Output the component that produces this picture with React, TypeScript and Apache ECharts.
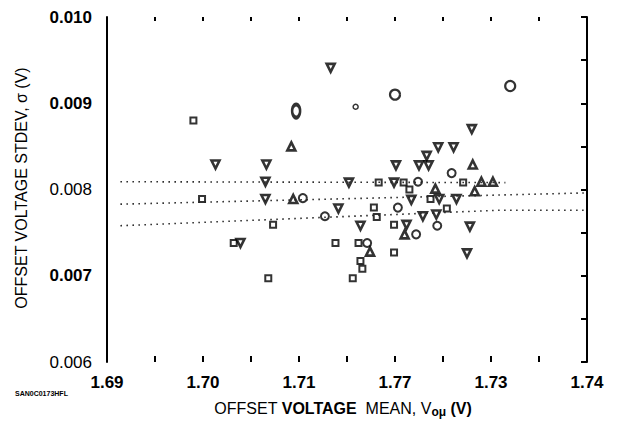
import React, { useEffect, useRef } from "react";
import * as echarts from "echarts";

// ---- data ----
const xTickLabels = ["1.69", "1.70", "1.71", "1.77", "1.73", "1.74"];
const yTickLabels = ["0.006", "0.007", "0.008", "0.009", "0.010"];

const squares: number[][] = [
  [1.699, 0.0088], [1.6999, 0.00789], [1.7073, 0.00759], [1.7032, 0.00738],
  [1.7068, 0.00697], [1.7183, 0.00808], [1.7209, 0.00808], [1.7215, 0.008],
  [1.7178, 0.00779], [1.7254, 0.00778], [1.7181, 0.00768], [1.7199, 0.00759],
  [1.7138, 0.00738], [1.7162, 0.00738], [1.7199, 0.00727], [1.7164, 0.00717],
  [1.7166, 0.00708], [1.7156, 0.00697], [1.7271, 0.00808], [1.7237, 0.00789],
];
const circles: number[][] = [
  [1.7259, 0.00819], [1.7224, 0.00809], [1.7104, 0.0079], [1.7203, 0.00779],
  [1.7127, 0.00769], [1.7244, 0.00758], [1.7222, 0.00748], [1.7171, 0.00738],
];
const circlesLarge: number[][] = [[1.72, 0.0091], [1.732, 0.0092]];
const circleBold: number[][] = [[1.7097, 0.00891]];
const circleSmall: number[][] = [[1.7159, 0.00896]];
const trianglesDown: number[][] = [
  [1.7133, 0.00941], [1.7013, 0.00829], [1.7066, 0.00829], [1.7201, 0.00828],
  [1.7225, 0.00828], [1.7235, 0.00828], [1.7233, 0.00839], [1.7245, 0.00849],
  [1.7261, 0.00849], [1.728, 0.0087], [1.7065, 0.00809], [1.7065, 0.00789],
  [1.7152, 0.00808], [1.7199, 0.00808], [1.7217, 0.00788], [1.7246, 0.00789],
  [1.7264, 0.00789], [1.7141, 0.00778], [1.7164, 0.00758], [1.7229, 0.00769],
  [1.7243, 0.00771], [1.7212, 0.00759], [1.7278, 0.00757], [1.7275, 0.00726],
  [1.7039, 0.00738],
];
const trianglesUp: number[][] = [
  [1.7092, 0.0085], [1.7281, 0.00829], [1.7242, 0.00801], [1.729, 0.00809],
  [1.7302, 0.00809], [1.7283, 0.00798], [1.7094, 0.00789], [1.721, 0.00748],
  [1.7174, 0.00728],
];
const fitUpper: number[][] = [[1.6914, 0.00809], [1.7315, 0.00808]];
const fitMiddle: number[][] = [[1.6914, 0.00783], [1.7398, 0.00796]];
const fitLower: number[][] = [[1.6914, 0.00758], [1.7309, 0.00776], [1.7398, 0.00776]];

const X_MIN = 1.69, X_MAX = 1.74, X_STEP = 0.01;
const Y_MIN = 0.006, Y_MAX = 0.01, Y_STEP = 0.001;
const boldYLabels = new Set(["0.007", "0.009", "0.010"]);

const FONT = "'Liberation Sans', Arial, Helvetica, sans-serif";

export default function App() {
  const ref = useRef<HTMLDivElement>(null);
  useEffect(() => {
    document.body.style.margin = "0";
    if (!ref.current) return;
    const chart = echarts.init(ref.current, undefined, { renderer: "svg" });

    const openStyle = (bw: number) => ({
      color: "#ffffff",
      borderColor: "#000000",
      borderWidth: bw,
    });
    const dotted = {
      color: "#222",
      width: 1.6,
      type: [1.5, 4.5] as any,
    };

    chart.setOption({
      animation: false,
      backgroundColor: "#ffffff",
      grid: { left: 107, right: 35, top: 17, bottom: 68, containLabel: false },
      xAxis: [
        {
          type: "value",
          position: "bottom",
          min: X_MIN,
          max: X_MAX,
          interval: X_STEP,
          axisLine: { show: false },
          axisTick: { show: true, inside: true, length: 6, lineStyle: { color: "#000", width: 2 } },
          minorTick: { show: true, splitNumber: 2, length: 6, lineStyle: { color: "#000", width: 2 } },
          splitLine: { show: false },
          axisLabel: {
            margin: 12,
            fontFamily: FONT,
            fontSize: 17,
            fontWeight: "bold",
            color: "#000",
            formatter: (v: number) => xTickLabels[Math.round((v - X_MIN) / X_STEP)] ?? "",
          },
        },
        {
          type: "value",
          position: "top",
          min: X_MIN,
          max: X_MAX,
          interval: X_STEP,
          axisLine: { show: false },
          axisTick: { show: true, inside: true, length: 4, lineStyle: { color: "#000", width: 2 } },
          minorTick: { show: true, splitNumber: 2, length: 4, lineStyle: { color: "#000", width: 2 } },
          splitLine: { show: false },
          axisLabel: { show: false },
        },
      ],
      yAxis: [
        {
          type: "value",
          position: "left",
          min: Y_MIN,
          max: Y_MAX,
          interval: Y_STEP,
          axisLine: { show: true, lineStyle: { color: "#000", width: 2 } },
          axisTick: { show: false },
          splitLine: { show: false },
          axisLabel: {
            margin: 15,
            color: "#000",
            formatter: (v: number) => {
              const t = yTickLabels[Math.round((v - Y_MIN) / Y_STEP)] ?? "";
              return boldYLabels.has(t) ? `{b|${t}}` : `{n|${t}}`;
            },
            rich: {
              b: { fontFamily: FONT, fontSize: 17, fontWeight: "bold", color: "#000" },
              n: { fontFamily: FONT, fontSize: 17, fontWeight: "normal", color: "#000" },
            },
          },
        },
        {
          type: "value",
          position: "right",
          min: Y_MIN,
          max: Y_MAX,
          interval: Y_STEP / 2,
          axisLine: { show: true, lineStyle: { color: "#000", width: 2 } },
          axisTick: { show: true, inside: true, length: 6, lineStyle: { color: "#000", width: 2 } },
          splitLine: { show: false },
          axisLabel: { show: false },
        },
      ],
      series: [
        { type: "line", data: fitUpper, symbol: "none", lineStyle: dotted, silent: true },
        { type: "line", data: fitMiddle, symbol: "none", lineStyle: dotted, silent: true },
        { type: "line", data: fitLower, symbol: "none", lineStyle: dotted, silent: true },
        { type: "scatter", data: squares, symbol: "rect", symbolSize: 6, itemStyle: openStyle(2) },
        { type: "scatter", data: circles, symbol: "circle", symbolSize: 8, itemStyle: openStyle(2) },
        { type: "scatter", data: circlesLarge, symbol: "circle", symbolSize: 10, itemStyle: openStyle(2.2) },
        { type: "scatter", data: circleBold, symbol: "circle", symbolSize: [8, 13], itemStyle: openStyle(3.2) },
        { type: "scatter", data: circleSmall, symbol: "circle", symbolSize: 5, itemStyle: openStyle(1.5) },
        {
          type: "scatter", data: trianglesDown, symbol: "triangle", symbolRotate: 180,
          symbolSize: 8, itemStyle: openStyle(2.6),
        },
        { type: "scatter", data: trianglesUp, symbol: "triangle", symbolSize: 8, itemStyle: openStyle(2.6) },
      ],
      graphic: [
        {
          type: "text",
          x: 343,
          y: 408,
          style: {
            text: "{l|OFFSET }{b|VOLTAGE  }{l|MEAN, V}{s|oμ}{b| (V)}",
            align: "center",
            verticalAlign: "middle",
            rich: {
              l: { fontFamily: FONT, fontSize: 16, fontWeight: "normal", fill: "#000" },
              b: { fontFamily: FONT, fontSize: 16, fontWeight: "bold", fill: "#000" },
              s: { fontFamily: FONT, fontSize: 12, fontWeight: "bold", fill: "#000", padding: [8, 0, 0, 0] },
            },
          },
        },
        {
          type: "text",
          x: 21,
          y: 188,
          rotation: Math.PI / 2,
          style: {
            text: "OFFSET VOLTAGE STDEV, σ (V)",
            align: "center",
            verticalAlign: "middle",
            fontFamily: FONT,
            fontSize: 16,
            fill: "#000",
          },
        },
        {
          type: "text",
          x: 15,
          y: 393,
          style: {
            text: "SAN0C0173HFL",
            verticalAlign: "middle",
            fontFamily: FONT,
            fontSize: 7,
            fontWeight: "bold",
            fill: "#000",
          },
        },
      ],
    });
    return () => chart.dispose();
  }, []);
  return <div ref={ref} style={{ width: 622, height: 430 }} />;
}
